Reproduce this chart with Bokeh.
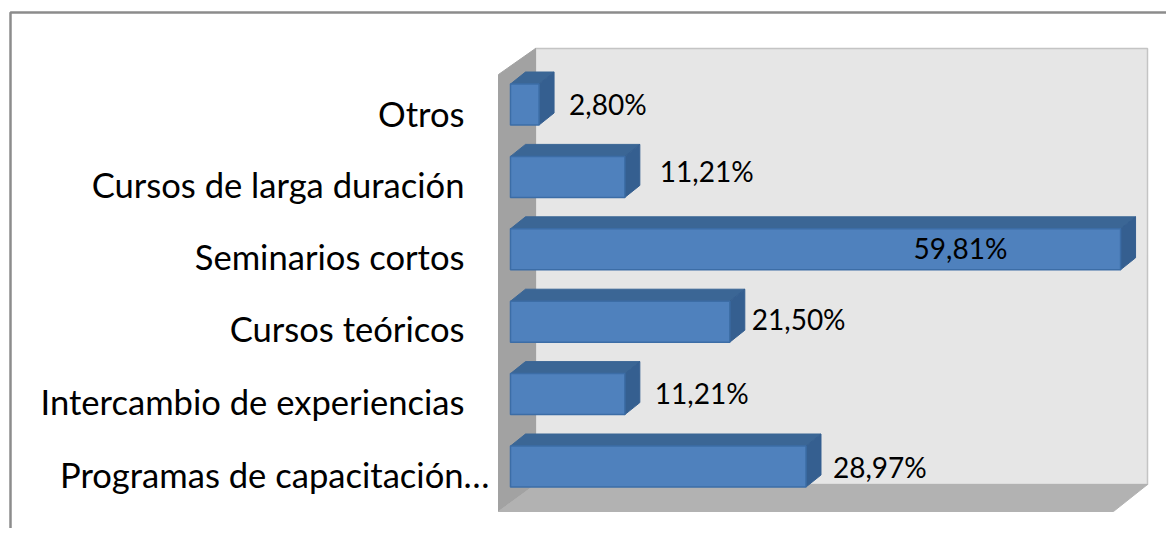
from bokeh.plotting import figure
from bokeh.models import Range1d, ColumnDataSource
from bokeh.core.properties import value
from bokeh.embed import file_html
from bokeh.resources import INLINE

# ---- data (bottom to top)
categories = ["Programas de capacitación…", "Intercambio de experiencias", "Cursos teóricos",
              "Seminarios cortos", "Cursos de larga duración", "Otros"]
values = [28.97, 11.21, 21.50, 59.81, 11.21, 2.80]
value_labels = ["28,97%", "11,21%", "21,50%", "59,81%", "11,21%", "2,80%"]

# ---- layout, in pixels of the canvas
W, H = 1166, 528
X0, XS = 510.0, 10.2        # canvas x of value 0, pixels per percent
Y0, YS = 466.0, 72.4        # canvas y of first category, pixels per category
BAR_H = 41
DX, DY = 15, 12             # bar depth
label_right = [489, 464, 464, 464, 464, 464]
label_dx = [27, 30, 22, -207, 35, 30]
label_dy = [0, -1, -3, -1, -6, -1]
CAT_DY = [8, 7, 7, 7, 8, 9]


def dx(px):
    return (px - X0) / XS


def dy(px):
    return (Y0 - px) / YS


p = figure(width=W, height=H, output_backend="svg", toolbar_location=None,
           x_range=Range1d(dx(0), dx(W)), y_range=Range1d(dy(H), dy(0)),
           min_border=0, outline_line_color=None, background_fill_color="white",
           border_fill_color="white")
p.xaxis.visible = False
p.yaxis.visible = False
p.grid.visible = False

# chart-area frame (open on right and bottom, as cropped in the reference)
p.line([dx(10), dx(10), dx(W)], [dy(H), dy(12), dy(12)], line_color="#8c8c8c", line_width=2.5)


def poly(pts, fill, line=None, width=1):
    p.patch([dx(a) for a, _ in pts], [dy(b) for _, b in pts], fill_color=fill,
            line_color=line if line else fill, line_width=width)


# 3-D walls
poly([(535, 48), (1147, 48), (1147, 484), (535, 484)], "#e6e6e6", "#c4c4c4", 1.5)
poly([(498, 74), (535, 48), (535, 484), (498, 511)], "#a2a2a2")
poly([(498, 511), (535, 484), (1147, 484), (1113, 511)], "#b2b2b2")

# 3-D bars, drawn from the top category down so nearer bars overlap
for i in range(len(values) - 1, -1, -1):
    xr = X0 + values[i] * XS
    yc = Y0 - i * YS
    t, b = yc - BAR_H / 2, yc + BAR_H / 2
    poly([(X0, t), (X0 + DX, t - DY), (xr + DX, t - DY), (xr, t)], "#3b6695", "#3b6695")
    poly([(xr, t), (xr + DX, t - DY), (xr + DX, b - DY), (xr, b)], "#355f90", "#355f90")
    poly([(X0, t), (xr, t), (xr, b), (X0, b)], "#4f81bd", "#3c6da6", 1.5)

src_cat = ColumnDataSource(dict(
    x=[dx(r) for r in label_right], y=list(range(len(categories))), t=categories, yo=CAT_DY))
p.text("x", "y", text="t", source=src_cat, y_offset="yo", text_align="right", text_baseline="middle",
       text_font=value("Lato"), text_font_size="34.6px", text_color="#000000")

src_val = ColumnDataSource(dict(x=values, y=list(range(len(values))), t=value_labels,
                                xo=label_dx, yo=label_dy))
p.text("x", "y", text="t", source=src_val, x_offset="xo", y_offset="yo",
       text_align="left", text_baseline="middle",
       text_font=value("Lato"), text_font_size="28px", text_color="#000000")

open("out.html", "w").write(file_html(p, INLINE))
